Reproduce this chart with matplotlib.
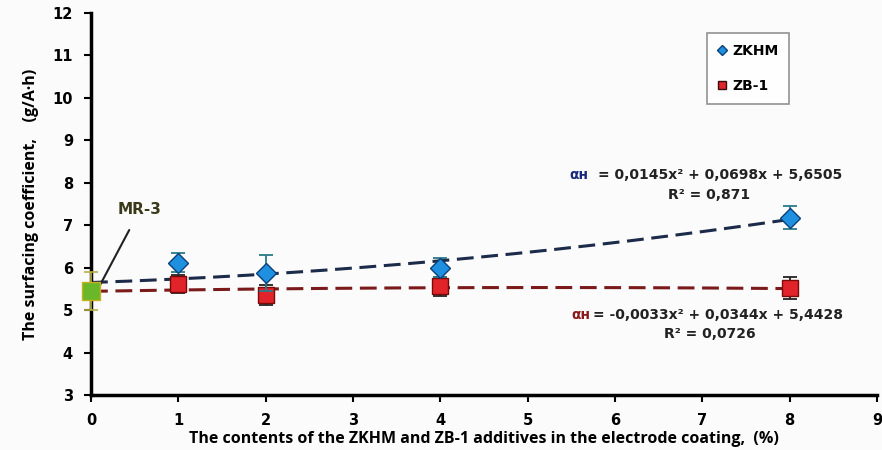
import matplotlib
matplotlib.use("Agg")
import matplotlib.pyplot as plt
import numpy as np
from matplotlib.lines import Line2D

# Data
x_add = [1, 2, 4, 8]
zkhm = [6.12, 5.88, 6.0, 7.18]
zkhm_err = [0.23, 0.42, 0.23, 0.28]
zb1 = [5.62, 5.35, 5.56, 5.52]
zb1_err = [0.21, 0.24, 0.22, 0.27]
mr3_x = [0]
mr3 = [5.45]
mr3_err = [0.45]
zkhm_coef = [0.0145, 0.0698, 5.6505]
zb1_coef = [-0.0033, 0.0344, 5.4428]
xticks = list(range(0, 10))
yticks = list(range(3, 13))

W, H = 882, 450
fig = plt.figure(figsize=(W / 100, H / 100), dpi=100)
fig.patch.set_facecolor("#fbfbfb")
ax = fig.add_axes([91 / W, 1 - 395 / H, (877 - 91) / W, (395 - 13) / H])
ax.set_facecolor("#fbfbfb")
ax.set_xlim(0, 9)
ax.set_ylim(3, 12)

navy = "#1c2b4a"
dred = "#7a1a1a"

xs = np.linspace(0, 8, 200)
ax.plot(xs, np.polyval(zkhm_coef, xs), ls=(0, (5.5, 2.5)), color=navy, lw=2.2, zorder=2)
ax.plot(xs, np.polyval(zb1_coef, xs), ls=(0, (5.5, 2.5)), color=dred, lw=2.2, zorder=2)

ax.errorbar(x_add, zb1, yerr=zb1_err, fmt="s", color="#e0242a", mec="#7a0a0a",
            ms=12, ecolor="#222222", elinewidth=1.3, capsize=5, capthick=1.3, zorder=3)
ax.errorbar(x_add, zkhm, yerr=zkhm_err, fmt="D", color="#1f8fe0", mec="#0b3f7a",
            ms=10, ecolor="#2a7a8a", elinewidth=1.3, capsize=5, capthick=1.3, zorder=4)
ax.errorbar(mr3_x, mr3, yerr=mr3_err, fmt="s", color="#6ab82a", mec="#c9b020",
            ms=13, ecolor="#b8b040", elinewidth=1.2, capsize=5, capthick=1.2,
            ls="none", zorder=5, clip_on=False)

# MR-3 annotation
ax.annotate("MR-3", xy=(0.08, 5.5), xytext=(0.56, 7.36), ha="center", va="center",
            fontsize=11, fontweight="bold", color="#3a3a1a", family="DejaVu Sans",
            arrowprops=dict(arrowstyle="-", color="#222222", lw=1.5,
                            shrinkA=8, shrinkB=0))

# Equations
eqfs = 10
ax.text(5.70, 8.19, "αн", color="#1a2a7a", fontsize=eqfs, fontweight="bold",
        ha="right", va="center", family="DejaVu Sans")
ax.text(5.80, 8.19, "= 0,0145x² + 0,0698x + 5,6505", color="#222222", fontsize=eqfs,
        fontweight="bold", ha="left", va="center", family="DejaVu Sans")
ax.text(7.08, 7.72, "R² = 0,871", color="#222222", fontsize=eqfs, fontweight="bold",
        ha="center", va="center", family="DejaVu Sans")
ax.text(5.72, 4.89, "αн", color="#8a1a1a", fontsize=eqfs, fontweight="bold",
        ha="right", va="center", family="DejaVu Sans")
ax.text(5.75, 4.89, "= -0,0033x² + 0,0344x + 5,4428", color="#222222", fontsize=eqfs,
        fontweight="bold", ha="left", va="center", family="DejaVu Sans")
ax.text(7.08, 4.44, "R² = 0,0726", color="#222222", fontsize=eqfs, fontweight="bold",
        ha="center", va="center", family="DejaVu Sans")

# Axes styling
for s in ["top", "right"]:
    ax.spines[s].set_visible(False)
for s in ["left", "bottom"]:
    ax.spines[s].set_linewidth(2.5)
    ax.spines[s].set_color("black")
ax.set_xticks(xticks)
ax.set_yticks(yticks)
ax.tick_params(axis="both", direction="out", length=5, width=1.5, labelsize=10.5)
for lab in ax.get_xticklabels() + ax.get_yticklabels():
    lab.set_fontweight("bold")
    lab.set_family("DejaVu Sans")
ax.tick_params(axis="x", pad=8)
ax.tick_params(axis="y", pad=8)

ax.set_xlabel("The contents of the ZKHM and ZB-1 additives in the electrode coating,  (%)",
              fontsize=11.5, fontweight="bold", family="Open Sans", labelpad=2)
ax.set_ylabel("The surfacing coefficient,    (g/A·h)", fontsize=11.5, fontweight="bold",
              family="Open Sans", labelpad=10)

# Legend
handles = [Line2D([], [], marker="D", color="#1f8fe0", mec="#0b3f7a", ls="none", ms=5),
           Line2D([], [], marker="s", color="#e0242a", mec="#3a0a0a", ls="none", ms=6)]
leg = fig.legend(handles, ["ZKHM", "ZB-1"], loc="upper left",
                 bbox_to_anchor=(707 / W, 1 - 33 / H), frameon=True, fancybox=False,
                 prop={"family": "DejaVu Sans", "weight": "bold", "size": 10},
                 handlelength=0.6, handletextpad=0.4, labelspacing=1.5,
                 borderpad=0.8, borderaxespad=0)
leg.get_frame().set_edgecolor("#777777")
leg.get_frame().set_linewidth(1.2)
leg.get_frame().set_facecolor("white")

fig.savefig("out.png", dpi=100, facecolor=fig.get_facecolor())
